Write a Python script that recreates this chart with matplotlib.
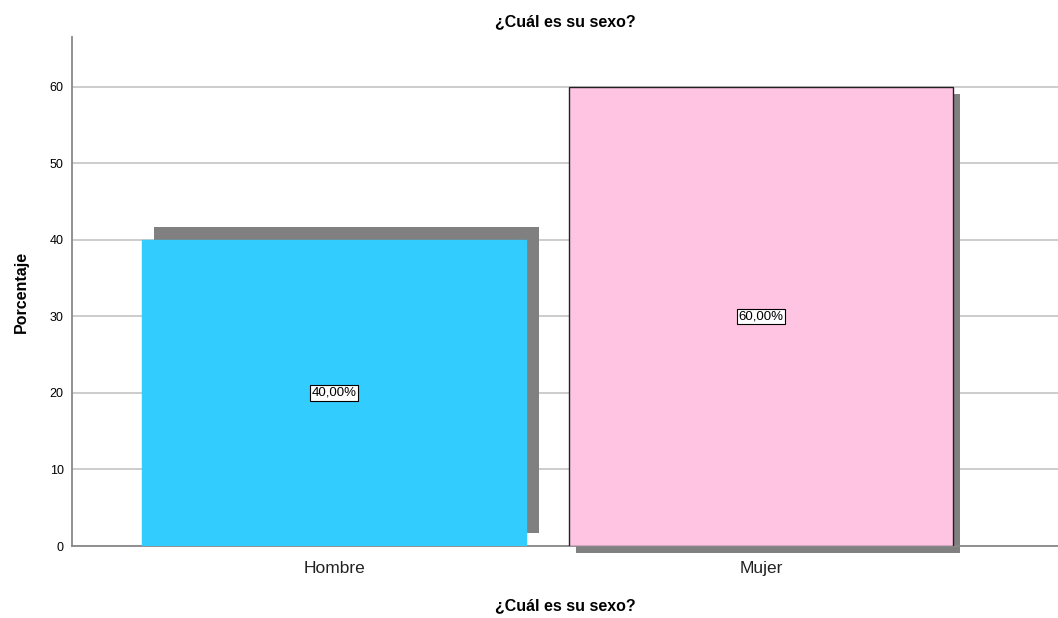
import matplotlib.pyplot as plt

plt.rcParams['font.family'] = ['Liberation Sans', 'DejaVu Sans']

categorias = ["Hombre", "Mujer"]
porcentajes = [40.0, 60.0]
etiquetas = ["40,00%", "60,00%"]
colores = ["#33ccff", "#ffc4e1"]
bordes = ["#33ccff", "#222222"]
# desplazamiento de la sombra (x en unidades de categoria, y en %)
sombra_dx = [0.029, 0.017]
sombra_dy = [1.7, -0.9]

fig = plt.figure(figsize=(10.58, 6.18), dpi=100)
ax = fig.add_axes([0.068, 0.1165, 0.932, 0.8235])

x = list(range(len(categorias)))
ancho = 0.9
for i in x:
    ax.bar(i + sombra_dx[i], porcentajes[i], width=ancho, bottom=sombra_dy[i],
           color="#808080", zorder=2, clip_on=False)
    ax.bar(i, porcentajes[i], width=ancho, color=colores[i],
           edgecolor=bordes[i], linewidth=1, zorder=3)
    ax.text(i, porcentajes[i] / 2, etiquetas[i], ha="center", va="center",
            fontsize=9.5, zorder=4,
            bbox=dict(boxstyle="square,pad=0.12", fc="white", ec="black", lw=0.8))

ax.set_xlim(-0.614, 1.696)
ax.set_ylim(0, 66.5)
ax.set_yticks(range(0, 70, 10))
ax.set_xticks(x)
ax.set_xticklabels(categorias, fontsize=12.5, color="#222222")
ax.tick_params(axis="y", labelsize=9, length=0, pad=6)
ax.tick_params(axis="x", length=0, pad=11)
ax.grid(axis="y", color="#c8c8c8", linewidth=1.3, zorder=0)
ax.set_axisbelow(True)
for s in ["top", "right"]:
    ax.spines[s].set_visible(False)
ax.spines["left"].set_color("#888888")
ax.spines["bottom"].set_color("#888888")
ax.spines["left"].set_linewidth(1.3)
ax.spines["bottom"].set_linewidth(1.3)

ax.set_title("¿Cuál es su sexo?", fontsize=11.5, fontweight="bold", pad=8)
ax.set_xlabel("¿Cuál es su sexo?", fontsize=11.5, fontweight="bold", labelpad=16)
ax.set_ylabel("Porcentaje", fontsize=11.5, fontweight="bold", labelpad=15)

fig.savefig("out.png", dpi=100)
